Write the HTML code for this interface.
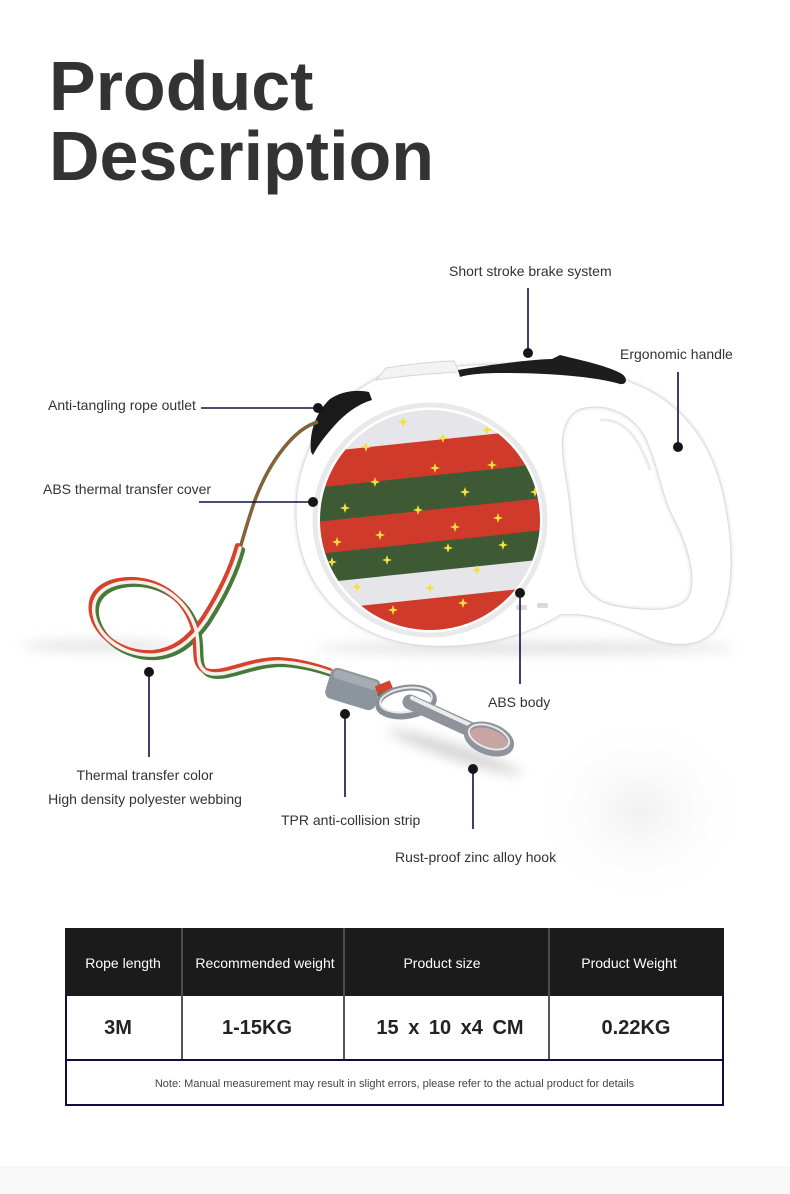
<!DOCTYPE html>
<html><head><meta charset="utf-8"><style>
*{margin:0;padding:0;box-sizing:border-box}
body{width:790px;height:1194px;background:#fff;position:relative;overflow:hidden;font-family:"Liberation Sans",Arial,sans-serif}
.t{position:absolute;white-space:nowrap}
.title{left:49px;font-size:70px;font-weight:bold;color:#333;line-height:70px}
.lb{font-size:14px;line-height:16px;color:#333}
.c{text-align:center;width:240px}
.cell{position:absolute;display:flex;align-items:center;justify-content:center;white-space:nowrap}
.h{color:#fff;font-size:14px}
.d{color:#222;font-size:20px;font-weight:bold}
</style></head><body>

<svg width="790" height="1194" style="position:absolute;left:0;top:0" xmlns="http://www.w3.org/2000/svg">
<defs>
 <filter id="b2" x="-10%" y="-10%" width="120%" height="120%"><feGaussianBlur stdDeviation="2"/></filter>
 <filter id="b6" x="-50%" y="-200%" width="200%" height="500%"><feGaussianBlur stdDeviation="6"/></filter>
 <radialGradient id="glow" cx="50%" cy="50%" r="50%"><stop offset="0" stop-color="#f1f1f1"/><stop offset="1" stop-color="#fff" stop-opacity="0"/></radialGradient>
 <clipPath id="cc"><circle cx="430" cy="520" r="110"/></clipPath>
 <path id="st" d="M0,-5 L1.3,-1.3 L5,0 L1.3,1.3 L0,5 L-1.3,1.3 L-5,0 L-1.3,-1.3Z" fill="#f3e13a"/>
 <path id="rib" d="M 240 548 C 234 570, 222 595, 206 620 C 190 643, 175 653, 155 655 C 125 657, 98 638, 94 614 C 91 592, 110 581, 137 582 C 165 584, 188 602, 196 630 C 201 650, 194 664, 206 672 C 222 680, 248 662, 280 662 C 300 663, 318 668, 332 673" fill="none" stroke-linecap="round"/>
 <path id="body" d="M 380 376 L 460 366 C 540 360, 610 370, 630 382 C 680 400, 710 440, 722 490 C 735 545, 735 600, 715 630 C 700 648, 670 648, 645 636 C 610 620, 585 612, 560 615 C 520 640, 470 648, 430 646 C 350 642, 298 590, 296 515 C 295 465, 320 415, 350 395 Z M 578 410 C 600 402, 630 410, 645 437 C 658 465, 662 495, 672 515 C 688 545, 698 580, 688 598 C 678 612, 650 610, 630 608 C 608 606, 588 600, 580 577 C 572 550, 572 515, 567 485 C 562 455, 556 423, 578 410 Z"/>
</defs>

<!-- shadows -->
<ellipse cx="640" cy="810" rx="115" ry="100" fill="url(#glow)"/>
<ellipse cx="525" cy="648" rx="210" ry="5" fill="#c8c8c8" filter="url(#b6)" opacity=".65"/>
<ellipse cx="100" cy="646" rx="80" ry="4" fill="#dadada" filter="url(#b6)"/>
<ellipse cx="455" cy="752" rx="70" ry="7" fill="#d2d2d2" filter="url(#b6)" transform="rotate(18 455 752)"/>

<!-- body -->
<use href="#body" fill="#cfcfcf" fill-rule="evenodd" filter="url(#b2)"/>
<use href="#body" fill="#fff" fill-rule="evenodd" stroke="#dcdcdc" stroke-width="1"/>
<path d="M 600 420 C 625 418, 640 440, 650 470" fill="none" stroke="#ececec" stroke-width="3"/>
<circle cx="430" cy="520" r="115" fill="none" stroke="#e9e9e9" stroke-width="5"/>

<!-- top tab and brake -->
<path d="M 376 380 L 386 368 C 410 364, 440 361, 454 361 L 459 372 C 440 373, 400 376, 376 380 Z" fill="#f3f3f3" stroke="#d6d6d6" stroke-width="1"/>
<path d="M 458 370 C 500 363, 540 359, 552 359 L 560 355 L 572 358 C 590 362, 612 368, 622 374 C 628 378, 627 385, 620 384 C 600 378, 560 373, 500 373 C 480 373, 466 375, 460 377 Z" fill="#1d1d1d"/>

<!-- outlet -->
<path d="M 311 452 C 309 432, 316 412, 330 399 C 340 392, 355 389, 369 392 L 372 400 C 358 404, 345 414, 335 425 C 326 435, 318 445, 313 455 Z" fill="#1a1a1a"/>

<!-- printed circle -->
<g clip-path="url(#cc)">
 <rect x="300" y="400" width="260" height="260" fill="#e6e6ea"/>
 <g transform="rotate(-6 430 520)">
  <rect x="260" y="441" width="340" height="36" fill="#cf3a2b"/>
  <rect x="260" y="476" width="340" height="35" fill="#3d5a35"/>
  <rect x="260" y="510" width="340" height="33" fill="#cf3a2b"/>
  <rect x="260" y="542" width="340" height="30" fill="#3d5a35"/>
  <rect x="260" y="571" width="340" height="28" fill="#e6e6ea"/>
  <rect x="260" y="598" width="340" height="70" fill="#cf3a2b"/>
 </g>
 <use href="#st" x="403" y="422"/><use href="#st" x="366" y="447"/><use href="#st" x="443" y="438"/>
 <use href="#st" x="487" y="430"/><use href="#st" x="435" y="468"/><use href="#st" x="492" y="465"/>
 <use href="#st" x="375" y="482"/><use href="#st" x="465" y="492"/><use href="#st" x="345" y="508"/>
 <use href="#st" x="418" y="510"/><use href="#st" x="535" y="492"/><use href="#st" x="380" y="535"/>
 <use href="#st" x="455" y="527"/><use href="#st" x="498" y="518"/><use href="#st" x="337" y="542"/>
 <use href="#st" x="448" y="548"/><use href="#st" x="387" y="560"/><use href="#st" x="503" y="545"/>
 <use href="#st" x="477" y="570"/><use href="#st" x="357" y="587"/><use href="#st" x="430" y="588"/>
 <use href="#st" x="393" y="610"/><use href="#st" x="463" y="603"/><use href="#st" x="332" y="562"/>
</g>
<rect x="516" y="605" width="11" height="5" rx="2" fill="#dadada"/>
<rect x="537" y="603" width="11" height="5" rx="2" fill="#dadada"/>

<!-- cord + ribbon -->
<path d="M 318 422 C 295 428, 270 460, 255 500 C 248 520, 244 535, 240 548" fill="none" stroke="#4a7a3c" stroke-width="3.5"/>
<path d="M 318 422 C 295 428, 270 460, 255 500 C 248 520, 244 535, 240 548" fill="none" stroke="#d2402e" stroke-width="1.4"/>
<use href="#rib" stroke="#457b3a" stroke-width="6" transform="translate(2.2 2)"/>
<use href="#rib" stroke="#d5432f" stroke-width="6" transform="translate(-2.2 -2)"/>
<use href="#rib" stroke="#f5f1ea" stroke-width="3.5"/>

<!-- TPR -->
<g transform="rotate(17 353 689)">
 <rect x="327" y="673" width="52" height="32" rx="7" fill="#8c949c"/>
 <rect x="330" y="675" width="46" height="9" rx="4" fill="#a4abb2"/>
</g>
<path d="M 377 692 L 392 686" stroke="#d5432f" stroke-width="12"/>
<path d="M 378 696 L 393 690" stroke="#457b3a" stroke-width="4"/>

<!-- hook -->
<ellipse cx="406" cy="702" rx="28" ry="14" transform="rotate(-8 406 702)" fill="none" stroke="#8a8f96" stroke-width="6"/>
<ellipse cx="406" cy="700" rx="26" ry="12" transform="rotate(-8 406 700)" fill="none" stroke="#e6e8eb" stroke-width="2"/>
<path d="M 410 702 L 498 742" stroke="#8f949b" stroke-width="15" stroke-linecap="round"/>
<path d="M 412 698 L 494 736" stroke="#e9ebee" stroke-width="4" stroke-linecap="round"/>
<ellipse cx="489" cy="739" rx="23" ry="13" transform="rotate(20 489 739)" fill="#c9a4a4" stroke="#8f949b" stroke-width="6"/>
<ellipse cx="489" cy="737" rx="21" ry="11" transform="rotate(20 489 737)" fill="none" stroke="#e4e6e9" stroke-width="2"/>

<!-- connectors -->
<g stroke="#110e48" stroke-width="1.6" fill="none">
 <line x1="528" y1="288" x2="528" y2="350"/>
 <line x1="678" y1="372" x2="678" y2="444"/>
 <line x1="201" y1="408" x2="315" y2="408"/>
 <line x1="199" y1="502" x2="310" y2="502"/>
 <line x1="520" y1="595" x2="520" y2="684"/>
 <line x1="149" y1="672" x2="149" y2="757"/>
 <line x1="345" y1="714" x2="345" y2="797"/>
 <line x1="473" y1="769" x2="473" y2="829"/>
</g>
<g fill="#151515">
 <circle cx="528" cy="353" r="5"/>
 <circle cx="678" cy="447" r="5"/>
 <circle cx="318" cy="408" r="5"/>
 <circle cx="313" cy="502" r="5"/>
 <circle cx="520" cy="593" r="5"/>
 <circle cx="149" cy="672" r="5"/>
 <circle cx="345" cy="714" r="5"/>
 <circle cx="473" cy="769" r="5"/>
</g>

<!-- bottom strip -->
<rect x="0" y="1166" width="790" height="28" fill="#f8f8f8"/>
</svg>

<div class="t title" style="top:51px">Product</div>
<div class="t title" style="top:121px">Description</div>

<div class="t lb" style="left:449px;top:263px">Short stroke brake system</div>
<div class="t lb" style="left:620px;top:346px">Ergonomic handle</div>
<div class="t lb" style="left:48px;top:397px">Anti-tangling rope outlet</div>
<div class="t lb" style="left:43px;top:481px">ABS thermal transfer cover</div>
<div class="t lb" style="left:488px;top:694px">ABS body</div>
<div class="t lb c" style="left:25px;top:767px">Thermal transfer color</div>
<div class="t lb c" style="left:25px;top:791px">High density polyester webbing</div>
<div class="t lb" style="left:281px;top:812px">TPR anti-collision strip</div>
<div class="t lb" style="left:395px;top:849px">Rust-proof zinc alloy hook</div>

<!-- table -->
<div style="position:absolute;left:65px;top:928px;width:659px;height:68px;background:#1b1b1b"></div>
<div style="position:absolute;left:181px;top:928px;width:2px;height:68px;background:#4c4c4c"></div>
<div style="position:absolute;left:343px;top:928px;width:2px;height:68px;background:#4c4c4c"></div>
<div style="position:absolute;left:548px;top:928px;width:2px;height:68px;background:#4c4c4c"></div>

<div style="position:absolute;left:181px;top:996px;width:2px;height:64px;background:#555"></div>
<div style="position:absolute;left:343px;top:996px;width:2px;height:64px;background:#555"></div>
<div style="position:absolute;left:548px;top:996px;width:2px;height:64px;background:#555"></div>

<div style="position:absolute;left:65px;top:996px;width:2px;height:110px;background:#100d45"></div>
<div style="position:absolute;left:722px;top:996px;width:2px;height:110px;background:#100d45"></div>
<div style="position:absolute;left:65px;top:1059px;width:659px;height:2px;background:#100d45"></div>
<div style="position:absolute;left:65px;top:1104px;width:659px;height:2px;background:#100d45"></div>

<div class="cell h" style="left:23px;top:928px;width:200px;height:70px">Rope length</div>
<div class="cell h" style="left:165px;top:928px;width:200px;height:70px">Recommended weight</div>
<div class="cell h" style="left:342px;top:928px;width:200px;height:70px">Product size</div>
<div class="cell h" style="left:529px;top:928px;width:200px;height:70px">Product Weight</div>

<div class="cell d" style="left:18px;top:996px;width:200px;height:64px">3M</div>
<div class="cell d" style="left:157px;top:996px;width:200px;height:64px">1-15KG</div>
<div class="cell d" style="left:350px;top:996px;width:200px;height:64px;word-spacing:4px">15 x 10 x4 CM</div>
<div class="cell d" style="left:536px;top:996px;width:200px;height:64px">0.22KG</div>

<div class="cell" style="left:67px;top:1061px;width:655px;height:45px;font-size:11px;color:#444">Note: Manual measurement may result in slight errors, please refer to the actual product for details</div>

</body></html>
